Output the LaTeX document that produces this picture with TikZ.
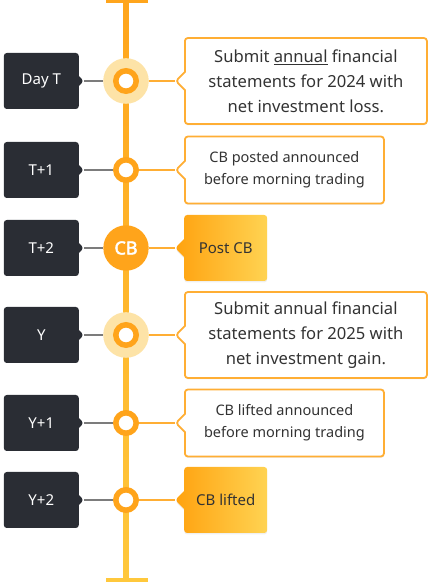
\documentclass[tikz,border=0pt]{standalone}
\usepackage{fontspec}
\setmainfont{Noto Sans}[AutoFakeBold=2.5]
\usepackage{tikz}
\usetikzlibrary{positioning}
\usetikzlibrary{shapes.callouts}
\usetikzlibrary{shadows}

\definecolor{DarkSlate}{HTML}{2A2D34}
\definecolor{RingOrange}{HTML}{FFA41B}
\definecolor{HaloYellow}{HTML}{FDE3A7}
\definecolor{EdgeOrange}{HTML}{FFAE34}
\definecolor{LineTop}{HTML}{FFA51C}
\definecolor{LineBottom}{HTML}{FFC83C}
\definecolor{GradLeft}{HTML}{FFA20F}
\definecolor{GradRight}{HTML}{FFD352}
\definecolor{TextGrey}{HTML}{333333}
\definecolor{LinkGrey}{HTML}{7C7C7C}

\tikzset{
	daybox/.style={rectangle callout,
		fill=DarkSlate,
		text=white,
		rounded corners=3pt,
		minimum width=75pt,
		minimum height=56pt,
		inner sep=0pt,
		callout relative pointer={(5pt,0pt)},
		callout pointer width=10pt,
		font=\fontsize{15}{18}\selectfont},
	bignote/.style={rectangle callout,
		draw=EdgeOrange,
		line width=1.8pt,
		fill=white,
		text=TextGrey,
		rounded corners=3pt,
		minimum width=242pt,
		minimum height=86pt,
		inner sep=0pt,
		align=center,
		callout relative pointer={(-9pt,0pt)},
		callout pointer width=18pt,
		drop shadow={opacity=0.12,shadow xshift=0pt,shadow yshift=-1.5pt},
		font=\fontsize{16.6}{25}\selectfont},
	smallnote/.style={bignote,
		minimum width=199pt,
		minimum height=67pt,
		font=\fontsize{14.5}{22}\selectfont},
	actnote/.style={rectangle callout,
		left color=GradLeft,
		right color=GradRight,
		text=TextGrey,
		rounded corners=3pt,
		minimum width=83pt,
		minimum height=66pt,
		inner sep=0pt,
		callout relative pointer={(-9pt,0pt)},
		callout pointer width=18pt,
		drop shadow={opacity=0.12,shadow xshift=0pt,shadow yshift=-1.5pt},
		font=\fontsize{15}{18}\selectfont},
	ring/.style={circle,
		draw=RingOrange,
		line width=5.5pt,
		fill=white,
		minimum size=20.4pt,
		inner sep=0pt},
	halo/.style={circle,
		fill=HaloYellow,
		minimum size=45.6pt,
		inner sep=0pt},
	cbdot/.style={circle,
		fill=RingOrange,
		text=white,
		minimum size=45.4pt,
		inner sep=0pt,
		font=\fontsize{18}{20}\selectfont\bfseries},
	greylink/.style={draw=LinkGrey, line width=1.5pt},
	orangelink/.style={draw=EdgeOrange, line width=1.5pt}
}

\begin{document}
\begin{tikzpicture}[x=1pt,y=1pt]
	\useasboundingbox (0,0) rectangle (433,582);

	% Timeline
	\coordinate (top) at (126,580);
	\coordinate (bottom) at (126,2);
	\shade[top color=LineTop, bottom color=LineBottom]
		(123.2,2) rectangle (128.8,580);
	\draw[LineTop, line width=3pt] (106,580.5) -- (148,580.5);
	\draw[LineBottom, line width=3pt] (106,2) -- (148,2);

	% Day T
	\node [halo] (halo0) at (126,501) {};
	\node [ring] (dot0) at (126,501) {};
	\node [daybox, left=47pt of dot0.center] (day0) {Day T};
	\node [bignote, right=58pt of dot0.center] (note0)
		{Submit \underline{annual} financial\\statements for 2024 with\\net investment loss.};

	% T+1
	\node [ring] (dot1) at (126,412) {};
	\node [daybox, left=47pt of dot1.center] (day1) {T+1};
	\node [smallnote, right=58pt of dot1.center] (note1)
		{CB posted announced\\before morning trading};

	% T+2
	\node [cbdot] (dot2) at (126,334) {CB};
	\node [daybox, left=47pt of dot2.center] (day2) {T+2};
	\node [actnote, right=58pt of dot2.center] (note2) {Post CB};

	% Y
	\node [halo] (halo3) at (126,247) {};
	\node [ring] (dot3) at (126,247) {};
	\node [daybox, left=47pt of dot3.center] (day3) {Y};
	\node [bignote, right=58pt of dot3.center] (note3)
		{Submit annual financial\\statements for 2025 with\\net investment gain.};

	% Y+1
	\node [ring] (dot4) at (126,159) {};
	\node [daybox, left=47pt of dot4.center] (day4) {Y+1};
	\node [smallnote, right=58pt of dot4.center] (note4)
		{CB lifted announced\\before morning trading};

	% Y+2
	\node [ring] (dot5) at (126,82) {};
	\node [daybox, left=47pt of dot5.center] (day5) {Y+2};
	\node [actnote, right=58pt of dot5.center] (note5) {CB lifted};

	% Links
	\draw[greylink] (day0.pointer) -- (halo0.west);
	\draw[orangelink] (halo0.east) -- (note0.pointer);
	\draw[greylink] (day1.pointer) -- (dot1.west);
	\draw[orangelink] (dot1.east) -- (note1.pointer);
	\draw[greylink] (day2.pointer) -- (dot2.west);
	\draw[orangelink] (dot2.east) -- (note2.pointer);
	\draw[greylink] (day3.pointer) -- (halo3.west);
	\draw[orangelink] (halo3.east) -- (note3.pointer);
	\draw[greylink] (day4.pointer) -- (dot4.west);
	\draw[orangelink] (dot4.east) -- (note4.pointer);
	\draw[greylink] (day5.pointer) -- (dot5.west);
	\draw[orangelink] (dot5.east) -- (note5.pointer);

\end{tikzpicture}
\end{document}
